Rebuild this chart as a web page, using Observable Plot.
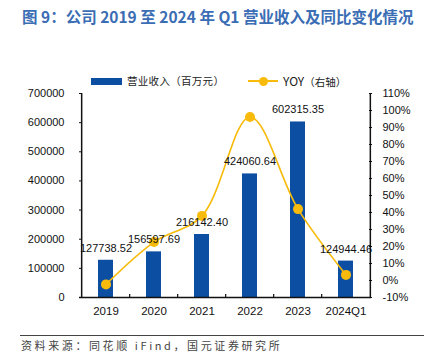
<!DOCTYPE html>
<html><head><meta charset="utf-8">
<script src="https://cdn.jsdelivr.net/npm/d3@7"></script>
<script src="https://cdn.jsdelivr.net/npm/@observablehq/plot@0.6"></script>
<style>
body{margin:0;width:430px;height:352px;position:relative;background:#fff;overflow:hidden;font-family:"Liberation Sans",Arial,sans-serif}
#chart{position:absolute;left:0;top:0}
#title{position:absolute;left:22px;top:5px;font-weight:bold;font-size:15.5px;font-family:"Noto Sans CJK SC",sans-serif;color:#3a6db4;white-space:nowrap;line-height:22px}
.leg{position:absolute;white-space:nowrap;font-size:10.5px;color:#222;line-height:14px}
#footline{position:absolute;left:20px;top:335px;width:404px;height:1px;background:#444}
#foot{position:absolute;left:21px;top:339px;font-size:11px;letter-spacing:2.6px;color:#444;font-family:"Noto Sans CJK SC",sans-serif;white-space:nowrap;line-height:13px}
</style></head><body>
<div id="title">图 9：公司 2019 至 2024 年 Q1 营业收入及同比变化情况</div>
<div id="legend"></div>
<div id="chart"></div>
<div id="footline"></div>
<div id="foot">资料来源：同花顺 iFind，国元证券研究所</div>
<script>
const categories = ["2019","2020","2021","2022","2023","2024Q1"];
const revenue = [127738.52,156597.69,216142.40,424060.64,602315.35,124944.46];
const revenueLabels = ["127738.52","156597.69","216142.40","424060.64","602315.35","124944.46"];
const yoy = [-2.3, 22.6, 38.0, 96.2, 42.0, 3.3];
const leftTicks = [0,100000,200000,300000,400000,500000,600000,700000];
const rightTicks = [-10,0,10,20,30,40,50,60,70,80,90,100,110];
const seriesNames = ["营业收入（百万元）","YOY（右轴）"];

const BLUE = "#0b4ea2", GOLD = "#f8bb0b";
const leftMax = 700000, rMin = -10, rMax = 110;
const toLeft = p => (p - rMin) / (rMax - rMin) * leftMax;

const data = categories.map((c,i)=>({cat:c, rev:revenue[i], label:revenueLabels[i], yy:toLeft(yoy[i])}));

const W=430,H=352, mL=79, mR=59, mT=93, mB=55;
const step = (W-mL-mR)/categories.length;

const plot = Plot.plot({
  width:W, height:H, marginLeft:mL, marginRight:mR, marginTop:mT, marginBottom:mB,
  style:{fontFamily:"'Liberation Sans',Arial,sans-serif", fontSize:"11px", color:"#111", background:"transparent"},
  x:{domain:categories, paddingInner:0.69, paddingOuter:0.345, label:null},
  y:{domain:[0,leftMax], label:null},
  marks:[
    Plot.barY(data,{x:"cat", y:"rev", fill:BLUE}),
    Plot.line(data,{x:"cat", y:"yy", stroke:GOLD, strokeWidth:1.6, curve:"catmull-rom"}),
    Plot.dot(data,{x:"cat", y:"yy", r:5, fill:GOLD}),
    Plot.text(data,{x:"cat", y:"rev", text:"label", dy:-12, fontSize:11, fill:"#111"}),
    // axis lines
    Plot.ruleY([0],{stroke:"#111", strokeWidth:1.5}),
    Plot.ruleX([categories[0]],{dx:-step/2, stroke:"#111", strokeWidth:1.5}),
    Plot.ruleX([categories[categories.length-1]],{dx:step/2, stroke:"#111", strokeWidth:1.5}),
    // bottom inward ticks at band boundaries
    Plot.ruleX(categories.slice(1),{x:d=>d, dx:-step/2, y1:0, y2:10000, stroke:"#111", strokeWidth:1.2}),
    // left axis
    Plot.axisY(leftTicks,{anchor:"left", tickSize:0, tickPadding:15, fontSize:11, fill:"#111", tickFormat:d=>String(d)}),
    Plot.axisY(leftTicks,{anchor:"left", tickSize:3, dx:3, tickFormat:()=>"" , stroke:"#111"}),
    // right axis
    Plot.axisY(rightTicks.map(toLeft),{anchor:"right", tickSize:0, tickPadding:11, fontSize:11, fill:"#111", tickFormat:v=>Math.round(v/leftMax*(rMax-rMin)+rMin)+"%"}),
    Plot.axisY(rightTicks.map(toLeft),{anchor:"right", tickSize:3, dx:-3, tickFormat:()=>"", stroke:"#111"}),
    // bottom axis labels
    Plot.axisX({tickSize:0, tickPadding:9, fontSize:11.5, fill:"#111"})
  ]
});
document.getElementById("chart").appendChild(plot);

// legend
const lg = document.getElementById("legend");
lg.innerHTML = `
<div style="position:absolute;left:91px;top:78px;width:31px;height:7px;background:${BLUE}"></div>
<div class="leg" style="left:127px;top:74px;font-family:'Noto Sans CJK SC',sans-serif;letter-spacing:0.3px">${seriesNames[0]}</div>
<div style="position:absolute;left:248px;top:80px;width:30px;height:2px;background:${GOLD}"></div>
<div style="position:absolute;left:258.5px;top:76.5px;width:9px;height:9px;border-radius:50%;background:${GOLD}"></div>
<div class="leg" style="left:283px;top:74px;font-size:12px;font-family:'Noto Sans CJK SC',sans-serif">YOY<span style="font-size:10.5px">（右轴）</span></div>`;
</script>
</body></html>
